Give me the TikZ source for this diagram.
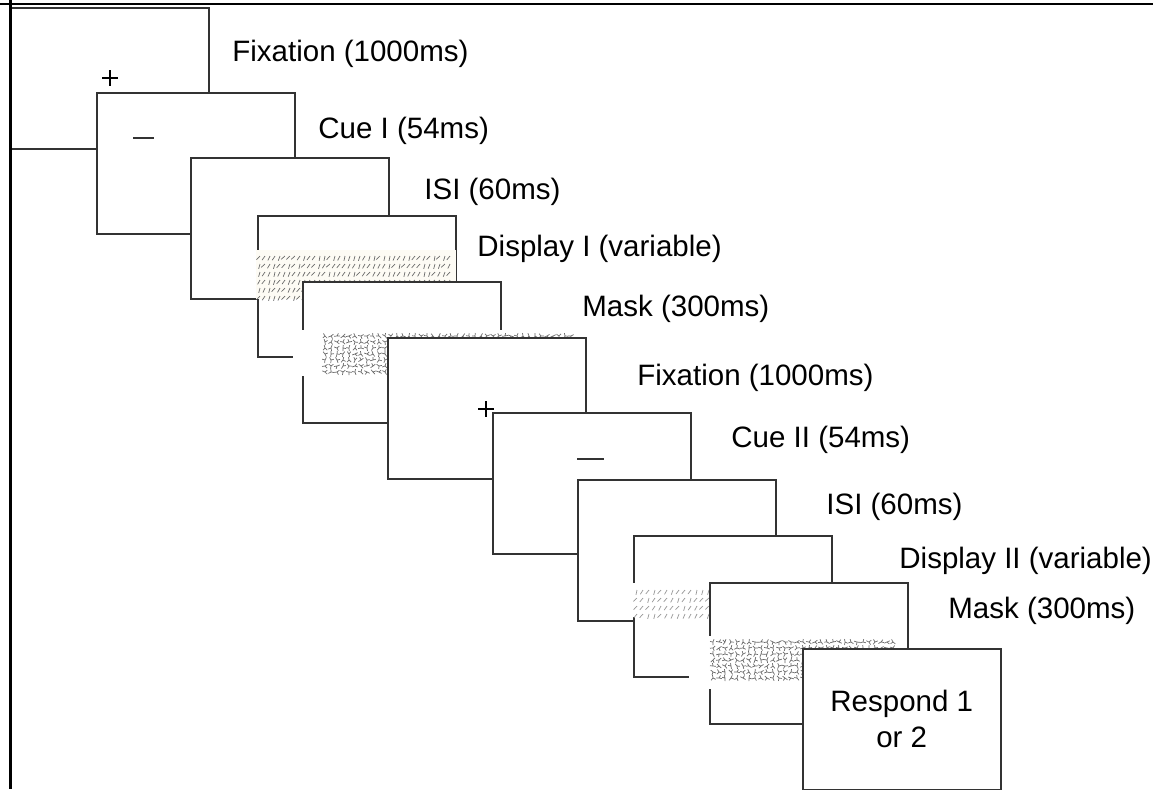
\documentclass[tikz,border=0pt]{standalone}
\usepackage{fontspec}
\setmainfont{Liberation Sans}
\newcommand{\labfont}{\fontsize{14.75}{18}\selectfont}
\definecolor{edge}{gray}{0.2}
\definecolor{ink}{gray}{0.42}
\definecolor{pale}{RGB}{253,251,244}
\begin{document}
\begin{tikzpicture}[x=0.5pt,y=-0.5pt,
    frame/.style={draw=edge,fill=white,line width=0.75pt,minimum width=99pt,
      minimum height=70.5pt,anchor=north west,inner sep=0pt},
    lbl/.style={anchor=base west,inner sep=0pt,font=\labfont},
    tex/.style={draw=ink,line width=0.35pt}]
  \useasboundingbox[fill=white] (0,0) rectangle (1153,789);
  \pgfmathsetseed{7}
  \node[frame] (fixA) at (10,7) {};
  \draw[line width=1.3pt] (102,78) -- (118,78) (110,70) -- (110,86);
  \node[frame] (cueA) at (96,92) {};
  \draw[line width=0.6pt,edge] (133,138) -- (154,138);
  \node[frame] (isiA) at (190,157) {};
  \node[frame] (dispA) at (257,215) {};
  \fill[pale] (256,250) rectangle (456,299);
  \foreach \i in {0,...,38}
    \foreach \j in {0,...,5}{
      \pgfmathsetmacro{\angA}{100+40*rnd}
      \draw[tex] (260+5*\i,256+8*\j) -- ++(\angA:5);
    }
  \node[frame] (maskA) at (302,281) {};
  \fill[white] (293,330) rectangle (580,376);
  \foreach \i in {0,...,41}
    \foreach \j in {0,...,6}{
      \pgfmathsetmacro{\angA}{360*rnd}
      \pgfmathsetmacro{\angB}{\angA+90+90*rnd}
      \pgfmathsetmacro{\angC}{\angB+60+60*rnd}
      \draw[tex] (325+6*\i,336+6*\j) -- ++(\angA:3)
        (325+6*\i,336+6*\j) -- ++(\angB:3)
        (325+6*\i,336+6*\j) -- ++(\angC:3);
    }
  \node[frame] (fixB) at (387,337) {};
  \draw[line width=1.3pt] (478,409) -- (494,409) (486,401) -- (486,417);
  \node[frame] (cueB) at (492,412) {};
  \draw[line width=0.6pt,edge] (577,459) -- (604,459);
  \node[frame] (isiB) at (577,479) {};
  \node[frame] (dispB) at (633,535) {};
  \fill[white] (631,583) rectangle (832,617);
  \foreach \i in {0,...,32}
    \foreach \j in {0,...,3}{
      \pgfmathsetmacro{\angA}{100+40*rnd}
      \draw[tex,draw=ink!70] (637+6*\i,590+8*\j) -- ++(\angA:5);
    }
  \node[frame] (maskB) at (709,582) {};
  \fill[white] (689,636) rectangle (902,689);
  \foreach \i in {0,...,30}
    \foreach \j in {0,...,6}{
      \pgfmathsetmacro{\angA}{360*rnd}
      \pgfmathsetmacro{\angB}{\angA+90+90*rnd}
      \pgfmathsetmacro{\angC}{\angB+60+60*rnd}
      \draw[tex] (713+6*\i,642+6*\j) -- ++(\angA:3)
        (713+6*\i,642+6*\j) -- ++(\angB:3)
        (713+6*\i,642+6*\j) -- ++(\angC:3);
    }
  \node[frame,font=\labfont,align=center] (resp) at (802,648) {Respond 1\\or 2};
  \node[lbl] (lfixA) at (232,61) {Fixation (1000ms)};
  \node[lbl] (lcueA) at (318,138) {Cue I (54ms)};
  \node[lbl] (lisiA) at (424,199) {ISI (60ms)};
  \node[lbl] (ldispA) at (477,256) {Display I (variable)};
  \node[lbl] (lmaskA) at (582,316) {Mask (300ms)};
  \node[lbl] (lfixB) at (637,385) {Fixation (1000ms)};
  \node[lbl] (lcueB) at (731,447) {Cue II (54ms)};
  \node[lbl] (lisiB) at (826,514) {ISI (60ms)};
  \node[lbl] (ldispB) at (899,568) {Display II (variable)};
  \node[lbl] (lmaskB) at (948,618) {Mask (300ms)};
  \draw[line width=1.25pt] (0,4) -- (1153,4);
  \draw[line width=1.5pt] (10,0) -- (10,789);
\end{tikzpicture}
\end{document}
